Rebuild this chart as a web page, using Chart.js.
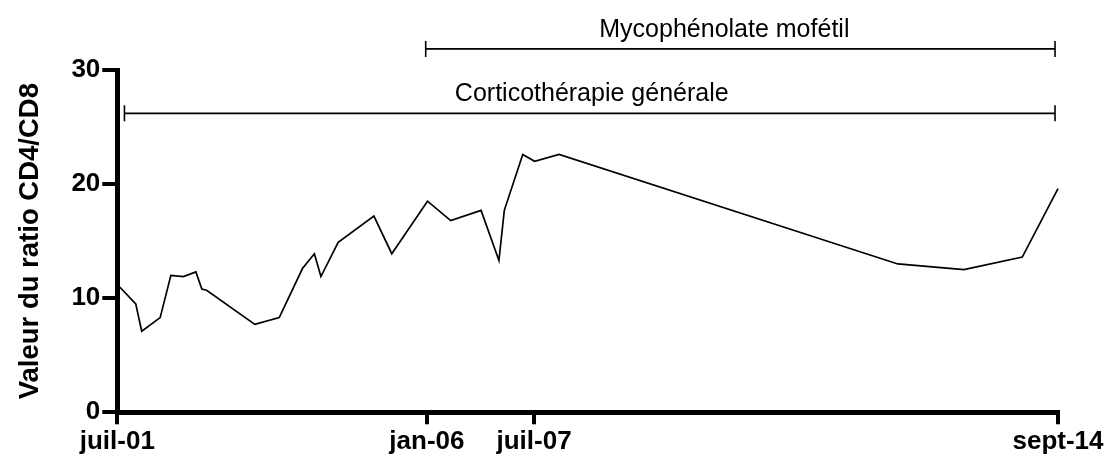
<!DOCTYPE html>
<html lang="fr">
<head>
<meta charset="utf-8">
<title>Ratio CD4/CD8</title>
<script src="https://cdn.jsdelivr.net/npm/chart.js@4.4.1/dist/chart.umd.min.js"></script>
<style>
  html, body { margin: 0; padding: 0; background: #fff; }
</style>
</head>
<body>
<canvas id="chart" width="1112" height="457"></canvas>
<script>
// x position of each measurement, in months from juil-01 along the axis
const months = [0, 3.1, 4.1, 7.2, 9.0, 11.1, 13.2, 14.2, 15.0, 23.1, 27.2, 31.1, 33.1, 34.2,
  37.1, 43.1, 46.1, 52.1, 56.0, 61.1, 64.1, 65.0, 68.1, 70.1, 74.2, 131.1, 142.2, 152.0, 158];
const ratios = [11.2, 9.5, 7.1, 8.3, 12.0, 11.9, 12.3, 10.8, 10.7, 7.7, 8.3, 12.6, 13.9, 11.9,
  14.9, 17.2, 13.9, 18.5, 16.8, 17.7, 13.3, 17.7, 22.6, 22.0, 22.6, 13.0, 12.5, 13.6, 19.6];

const tickMonths = [0, 52, 70, 158];
const tickLabels = ['juil-01', 'jan-06', 'juil-07', 'sept-14'];

// treatment periods shown as bars above the curve
const treatments = ['Mycophénolate mofétil', 'Corticothérapie générale'];
const treatmentStart = [51.8, 1.2];
const treatmentEnd = [157.5, 157.5];
const treatmentLevel = [31.85, 26.2];

const family = '"Liberation Sans", Arial, Helvetica, sans-serif';

const treatmentBars = {
  id: 'treatmentBars',
  afterDraw(chart) {
    const { ctx, scales: { x, y } } = chart;
    ctx.save();
    ctx.strokeStyle = '#000';
    ctx.fillStyle = '#000';
    ctx.lineWidth = 1.6;
    ctx.font = '25px ' + family;
    ctx.textAlign = 'center';
    ctx.textBaseline = 'alphabetic';
    treatments.forEach((name, i) => {
      const x0 = x.getPixelForValue(treatmentStart[i]);
      const x1 = x.getPixelForValue(treatmentEnd[i]);
      const yy = y.getPixelForValue(treatmentLevel[i]);
      ctx.beginPath();
      ctx.moveTo(x0, yy); ctx.lineTo(x1, yy);
      ctx.moveTo(x0, yy - 8); ctx.lineTo(x0, yy + 8);
      ctx.moveTo(x1, yy - 8); ctx.lineTo(x1, yy + 8);
      ctx.stroke();
      // first label sits a little left of its bar's middle
      const shift = i === 0 ? -16 : 2;
      ctx.fillText(name, (x0 + x1) / 2 + shift, yy - 12);
    });
    ctx.restore();
  }
};

new Chart(document.getElementById('chart'), {
  type: 'line',
  data: {
    datasets: [{
      data: months.map((m, i) => ({ x: m, y: ratios[i] })),
      borderColor: '#000',
      borderWidth: 1.7,
      pointRadius: 0,
      tension: 0,
      clip: false
    }]
  },
  options: {
    responsive: false,
    animation: false,
    layout: { padding: { top: 70, right: 54, left: 0, bottom: 0 } },
    plugins: { legend: { display: false }, tooltip: { enabled: false } },
    scales: {
      x: {
        type: 'linear',
        min: 0,
        max: 158,
        afterBuildTicks(scale) { scale.ticks = tickMonths.map(v => ({ value: v })); },
        afterFit(scale) { scale.height = 44.7; },
        ticks: {
          callback: (v, i) => tickLabels[i],
          font: { family, size: 26, weight: 'bold' },
          color: '#000',
          padding: 2,
          maxRotation: 0,
          autoSkip: false
        },
        grid: { drawOnChartArea: false, tickLength: 12, lineWidth: 4, color: '#000' },
        border: { width: 5, color: '#000' }
      },
      y: {
        min: 0,
        max: 30,
        afterFit(scale) { scale.width = 117.3; },
        ticks: {
          stepSize: 10,
          font: { family, size: 26, weight: 'bold' },
          color: '#000',
          padding: 2
        },
        grid: { drawOnChartArea: false, tickLength: 15, lineWidth: 4, color: '#000' },
        border: { width: 5, color: '#000' },
        title: {
          display: true,
          text: 'Valeur du ratio CD4/CD8',
          font: { family, size: 27.5, weight: 'bold' },
          color: '#000',
          padding: { top: 14, bottom: 0 }
        }
      }
    }
  },
  plugins: [treatmentBars]
});
</script>
</body>
</html>
